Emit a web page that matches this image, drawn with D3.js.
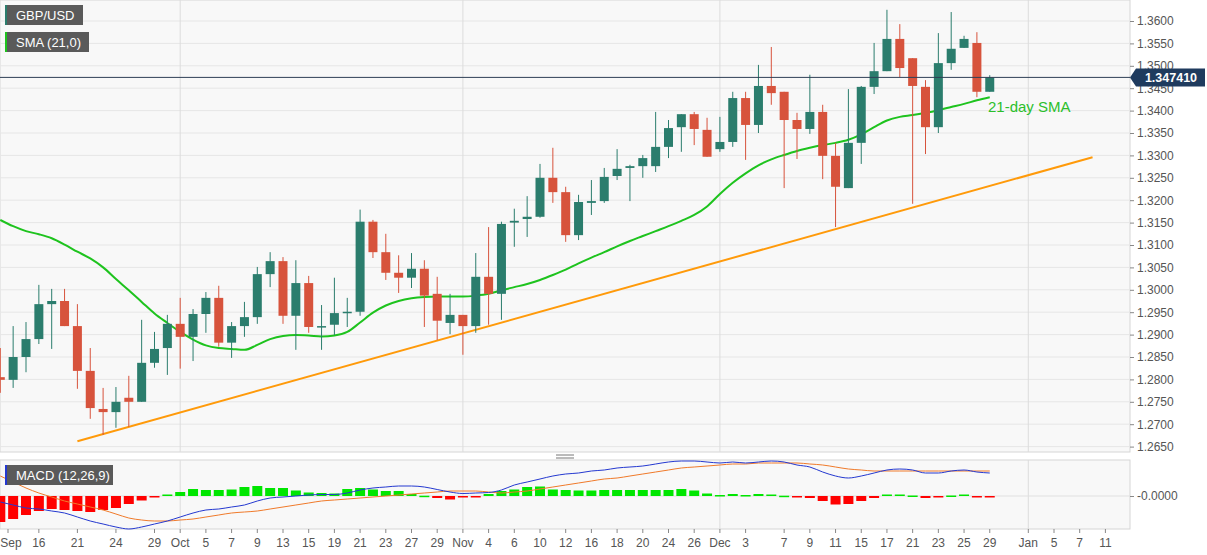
<!DOCTYPE html>
<html><head><meta charset="utf-8">
<script src="https://cdn.jsdelivr.net/npm/d3@7"></script>
<style>body{margin:0;background:#fff;font-family:Arial,"Liberation Sans",sans-serif}</style>
</head><body><svg id="c" width="1207" height="555"></svg>
<script>
const dates=["09-11","09-14","09-15","09-16","09-17","09-18","09-21","09-22","09-23","09-24","09-25","09-28","09-29","09-30","10-01","10-02","10-05","10-06","10-07","10-08","10-09","10-12","10-13","10-14","10-15","10-16","10-19","10-20","10-21","10-22","10-23","10-26","10-27","10-28","10-29","10-30","11-02","11-03","11-04","11-05","11-06","11-09","11-10","11-11","11-12","11-13","11-16","11-17","11-18","11-19","11-20","11-23","11-24","11-25","11-26","11-27","11-30","12-01","12-02","12-03","12-04","12-07","12-08","12-09","12-10","12-11","12-14","12-15","12-16","12-17","12-18","12-21","12-22","12-23","12-24","12-25","12-28","12-29"];
const open=[1.2805,1.2799,1.2850,1.2890,1.2968,1.2975,1.2919,1.2819,1.2734,1.2727,1.2759,1.2750,1.2837,1.2870,1.2924,1.2895,1.2946,1.2982,1.2882,1.2919,1.2939,1.3035,1.3064,1.2942,1.3015,1.2917,1.2922,1.2948,1.2951,1.3152,1.3084,1.3038,1.3027,1.3047,1.2991,1.2926,1.2944,1.2919,1.3029,1.2991,1.3150,1.3158,1.3163,1.3250,1.3218,1.3122,1.3194,1.3198,1.3254,1.3272,1.3276,1.3276,1.3319,1.3363,1.3392,1.3357,1.3314,1.3330,1.3428,1.3368,1.3455,1.3442,1.3379,1.3359,1.3397,1.3299,1.3227,1.3328,1.3453,1.3488,1.3560,1.3517,1.3453,1.3363,1.3506,1.3540,1.3551,1.3442];
const high=[1.2870,1.2919,1.2928,1.3011,1.3002,1.3002,1.2968,1.2870,1.2781,1.2783,1.2808,1.2933,1.2906,1.2944,1.2982,1.2957,1.2995,1.3009,1.2928,1.2973,1.3051,1.3084,1.3073,1.3066,1.3031,1.2966,1.3027,1.2982,1.3179,1.3156,1.3125,1.3077,1.3082,1.3066,1.3029,1.2991,1.2944,1.3082,1.3140,1.3152,1.3181,1.3209,1.3281,1.3317,1.3230,1.3212,1.3245,1.3272,1.3314,1.3279,1.3301,1.3397,1.3379,1.3392,1.3397,1.3384,1.3386,1.3442,1.3442,1.3502,1.3542,1.3442,1.3395,1.3480,1.3413,1.3328,1.3448,1.3455,1.3551,1.3625,1.3593,1.3517,1.3468,1.3573,1.3620,1.3567,1.3575,1.3479];
const low=[1.2770,1.2781,1.2816,1.2879,1.2868,1.2919,1.2779,1.2712,1.2676,1.2692,1.2694,1.2750,1.2826,1.2810,1.2824,1.2841,1.2904,1.2873,1.2848,1.2895,1.2924,1.3006,1.2924,1.2866,1.2904,1.2866,1.2899,1.2917,1.2942,1.3071,1.3022,1.2993,1.3004,1.2917,1.2888,1.2901,1.2855,1.2904,1.2922,1.2933,1.3096,1.3118,1.3161,1.3194,1.3107,1.3111,1.3167,1.3194,1.3245,1.3198,1.3250,1.3263,1.3294,1.3308,1.3323,1.3297,1.3308,1.3319,1.3290,1.3350,1.3413,1.3227,1.3292,1.3348,1.3247,1.3140,1.3227,1.3281,1.3437,1.3488,1.3475,1.3192,1.3303,1.3350,1.3491,1.3540,1.3430,1.3442];
const close=[1.2799,1.2850,1.2890,1.2968,1.2975,1.2919,1.2819,1.2736,1.2727,1.2750,1.2750,1.2837,1.2868,1.2924,1.2895,1.2946,1.2982,1.2882,1.2919,1.2939,1.3035,1.3064,1.2942,1.3015,1.2917,1.2919,1.2948,1.2951,1.3152,1.3084,1.3038,1.3027,1.3047,1.2987,1.2931,1.2944,1.2919,1.3029,1.2991,1.3147,1.3154,1.3163,1.3250,1.3218,1.3122,1.3196,1.3198,1.3252,1.3270,1.3276,1.3294,1.3319,1.3361,1.3392,1.3359,1.3297,1.3330,1.3428,1.3368,1.3455,1.3439,1.3379,1.3359,1.3397,1.3299,1.3230,1.3328,1.3453,1.3488,1.3560,1.3495,1.3455,1.3363,1.3506,1.3538,1.3560,1.3442,1.3474];
const sma21=[1.3156,1.3142,1.3131,1.3124,1.3115,1.3101,1.3085,1.3070,1.3050,1.3024,1.2999,1.2973,1.2947,1.2926,1.2906,1.2889,1.2876,1.2870,1.2868,1.2866,1.2877,1.2890,1.2897,1.2899,1.2898,1.2896,1.2898,1.2906,1.2927,1.2949,1.2965,1.2975,1.2981,1.2984,1.2985,1.2985,1.2985,1.2987,1.2991,1.2999,1.3006,1.3013,1.3022,1.3033,1.3045,1.3059,1.3072,1.3084,1.3097,1.3109,1.3120,1.3131,1.3142,1.3154,1.3167,1.3186,1.3214,1.3239,1.3260,1.3278,1.3291,1.3301,1.3310,1.3317,1.3323,1.3328,1.3335,1.3347,1.3363,1.3378,1.3386,1.3390,1.3395,1.3401,1.3408,1.3415,1.3423,1.3430];
const macd=[-6,-9,-12,-13,-15,-17,-21,-25,-28,-31,-33,-31,-28,-25,-21,-17,-14,-13,-11,-9,-5,-2,-1,0,1,1.5,1.5,3,6,8,9,10,10,9,6.5,4,2.5,3,3.5,6,11,14,17,20,22,23,25,26,28,29,30,32,34,35,35,34,33,34,33,34,35,34,31,29,24,20,18,20,23,26,27,26,23,23,25,26,24,23].map(v=>v*1e-4);
const signal=[20,14,8,3,-1,-5,-8,-11,-14,-18,-22,-24,-25,-25,-24,-23,-21,-19,-17,-16,-15,-13,-11,-9,-7,-5,-4,-3,-2,-1,0,1,2,3,4,5,5,5,4,3,4,5,7,9,11,13,15,17,18,20,22,24,26,28,29,30,31,32,32,33,33,33,33,32,31,29,27,26,25,25,25,25,25,25,25,25,25,25].map(v=>v*1e-4);
const hist=[-26,-23,-19,-15,-13,-14,-15,-16,-14,-12,-8,-4.5,-0.5,1.5,4,7,6,6,6.5,9,10,8,8,5.5,3.5,3,2.5,7,8,6.5,5,5,2,0.3,-2,-3.5,-1.5,-1.5,2,5,6.5,9,9.5,6.5,6,5.5,5.5,6,6,6,6,6,6,7,5.5,2.5,1,2,1,2,1.5,0.3,-1.5,-2,-5,-8.5,-8,-5,-2,1.5,1.5,0.5,-2,-1,0.5,1.5,-1,-1.3].map(v=>v*1e-4);
const trendIdx=[6,85], trendPrice=[1.2662,1.3296];
const priceTicks=[1.2650,1.2700,1.2750,1.2800,1.2850,1.2900,1.2950,1.3000,1.3050,1.3100,1.3150,1.3200,1.3250,1.3300,1.3350,1.3400,1.3450,1.3500,1.3550,1.3600];
const tickIdx=[0.6,3,6,9,12,14,16,18,20,22,24,26,28,30,32,34,36,38,40,42,44,46,48,50,52,54,56,58,61,63,65,67,69,71,73,75,77,80,82,84,86];
const tickLabels=["Sep","16","21","24","29","Oct","5","7","9","13","15","19","21","23","27","29","Nov","4","6","10","12","16","18","20","24","26","Dec","3","7","9","11","15","17","21","23","25","29","Jan","5","7","11"];
const monthIdx=[14,36,56,80];
const lastPrice="1.347410";

const svg=d3.select("#c");
const W=1130, pTop=0, pBot=452, mTop=460, mBot=529;
const x=d3.scaleLinear().domain([0,86]).range([0.3,0.3+86*12.85]);
const y=d3.scaleLinear().domain([1.36,1.2650]).range([21,446.6]);
const ym=d3.scaleLinear().domain([0,0.0036]).range([496,460]);
svg.append("rect").attr("x",0).attr("y",pTop).attr("width",W).attr("height",pBot-pTop).attr("fill","#f8f8f8").attr("stroke","#d6d6d6");
svg.append("rect").attr("x",0).attr("y",mTop).attr("width",W).attr("height",mBot-mTop).attr("fill","#f8f8f8").attr("stroke","#d6d6d6");
svg.append("g").selectAll("line").data(priceTicks).join("line").attr("x1",0).attr("x2",W).attr("y1",d=>y(d)).attr("y2",d=>y(d)).attr("stroke","#e6e6e6");
svg.append("g").selectAll("line").data(monthIdx).join("line").attr("x1",d=>x(d)).attr("x2",d=>x(d)).attr("y1",pTop).attr("y2",pBot).attr("stroke","#dcdcdc");
svg.append("g").selectAll("line").data(monthIdx).join("line").attr("x1",d=>x(d)).attr("x2",d=>x(d)).attr("y1",mTop).attr("y2",mBot).attr("stroke","#dcdcdc");
svg.append("line").attr("x1",0).attr("x2",W).attr("y1",ym(0)).attr("y2",ym(0)).attr("stroke","#e0e0e0");
const ax=svg.append("g").attr("transform",`translate(${W},0)`).call(d3.axisRight(y).tickValues(priceTicks).tickFormat(d3.format(".4f")).tickSize(4));
ax.select(".domain").remove();
ax.selectAll("text").attr("fill","#555").attr("font-size","12px").attr("font-family","Arial");
ax.selectAll("line").attr("stroke","#888");
const am=svg.append("g").attr("transform",`translate(${W},0)`).call(d3.axisRight(ym).tickValues([0]).tickFormat(()=>"-0.0000").tickSize(4));
am.select(".domain").remove();
am.selectAll("text").attr("fill","#555").attr("font-size","12px").attr("font-family","Arial");
am.selectAll("line").attr("stroke","#888");
const xa=svg.append("g").attr("transform",`translate(0,${mBot})`);
tickIdx.forEach((t,i)=>{
  xa.append("line").attr("x1",x(t)).attr("x2",x(t)).attr("y1",0).attr("y2",4).attr("stroke","#888");
  xa.append("text").attr("x",Math.max(x(t),11)).attr("y",18).attr("text-anchor","middle").attr("fill","#555").attr("font-size","12px").text(tickLabels[i]);
});
svg.append("line").attr("x1",x(trendIdx[0])).attr("y1",y(trendPrice[0])).attr("x2",x(trendIdx[1])).attr("y2",y(trendPrice[1])).attr("stroke","#ff9a0a").attr("stroke-width",2);
svg.append("path").datum(sma21).attr("d",d3.line().x((d,i)=>x(i)).y(d=>y(d)).curve(d3.curveMonotoneX)).attr("fill","none").attr("stroke","#1ec31e").attr("stroke-width",2);
const g=svg.append("g");
dates.forEach((d,i)=>{
  const up=close[i]>=open[i], col=up?"#2b7d6d":"#d7533c";
  g.append("line").attr("x1",x(i)).attr("x2",x(i)).attr("y1",y(high[i])).attr("y2",y(low[i])).attr("stroke",col).attr("stroke-width",1);
  const t=y(Math.max(open[i],close[i])), b=y(Math.min(open[i],close[i]));
  g.append("rect").attr("x",x(i)-4.5).attr("width",9).attr("y",t).attr("height",Math.max(1.5,b-t)).attr("fill",col);
});
const lp=+lastPrice;
ax.selectAll(".tick").filter(d=>Math.abs(y(d)-y(lp))<10).remove();
svg.append("line").attr("x1",0).attr("x2",W).attr("y1",y(lp)).attr("y2",y(lp)).attr("stroke","#2e3f55").attr("stroke-width",1);
svg.append("path").attr("d",`M${W},${y(lp)} L${W+6},${y(lp)-9} L${W+75},${y(lp)-9} L${W+75},${y(lp)+9} L${W+6},${y(lp)+9} Z`).attr("fill","#1f3b5e");
svg.append("text").attr("x",W+41).attr("y",y(lp)+4.5).attr("text-anchor","middle").attr("fill","#fff").attr("font-weight","bold").attr("font-size","12.5px").text(lastPrice);
svg.append("text").attr("x",988).attr("y",112).attr("fill","#2bbf2b").attr("font-size","15px").text("21-day SMA");
svg.append("g").selectAll("rect").data(hist).join("rect").attr("x",(d,i)=>x(i)-5).attr("width",10)
  .attr("y",d=>d>=0?ym(d):ym(0)).attr("height",d=>Math.max(1.5,Math.abs(ym(d)-ym(0)))).attr("fill",d=>d>=0?"#00e600":"#ff0000");
svg.append("path").datum(signal).attr("d",d3.line().x((d,i)=>x(i)).y(d=>ym(d)).curve(d3.curveMonotoneX)).attr("fill","none").attr("stroke","#f07a2a").attr("stroke-width",1);
svg.append("path").datum(macd).attr("d",d3.line().x((d,i)=>x(i)).y(d=>ym(d)).curve(d3.curveMonotoneX)).attr("fill","none").attr("stroke","#2438d0").attr("stroke-width",1);
svg.append("line").attr("x1",556).attr("x2",574).attr("y1",455).attr("y2",455).attr("stroke","#777");
svg.append("line").attr("x1",556).attr("x2",574).attr("y1",458).attr("y2",458).attr("stroke","#777");
function box(yy,w,txt,edge){
  svg.append("rect").attr("x",5).attr("y",yy).attr("width",w).attr("height",20).attr("fill","#5a5a5a");
  svg.append("rect").attr("x",5).attr("y",yy).attr("width",2).attr("height",20).attr("fill",edge);
  svg.append("text").attr("x",16).attr("y",yy+15).attr("fill","#fff").attr("font-size","13px").text(txt);
}
box(5,78,"GBP/USD","#2b7d6d");
box(32,84,"SMA (21,0)","#1ec31e");
box(465,108,"MACD (12,26,9)","#2438d0");
</script></body></html>
